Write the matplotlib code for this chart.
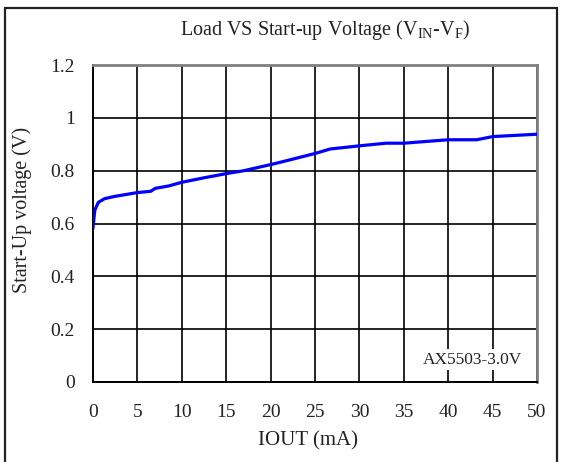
import numpy as np
import matplotlib
matplotlib.use('Agg')
import matplotlib.pyplot as plt
from matplotlib.patches import Rectangle

plt.rcParams['font.family'] = ['Liberation Serif', 'DejaVu Serif']
plt.rcParams['mathtext.fontset'] = 'custom'
plt.rcParams['mathtext.rm'] = 'Liberation Serif'

# load current (mA) vs start-up voltage (V)
iout = [0, 0.2, 0.6, 1.3, 2.5, 5, 6.5, 7, 8.5, 10, 12.5, 15.2, 17, 20, 21,
        23, 25, 26.7, 30, 33, 35, 40, 43.2, 45, 50]
vstart = [0.585, 0.65, 0.68, 0.694, 0.703, 0.717, 0.722, 0.733, 0.742, 0.756,
          0.773, 0.79, 0.80, 0.823, 0.831, 0.848, 0.865, 0.882, 0.894, 0.904,
          0.904, 0.917, 0.917, 0.929, 0.938]

xticks = [0, 5, 10, 15, 20, 25, 30, 35, 40, 45, 50]
yticks = [0, 0.2, 0.4, 0.6, 0.8, 1.0, 1.2]
ytick_labels = ['0', '0.2', '0.4', '0.6', '0.8', '1', '1.2']

W, H = 562, 462
fig = plt.figure(figsize=(W/100, H/100), dpi=100)
ax = fig.add_axes([93/W, 80/H, 444/W, 317/H])

# outer frame (bottom edge cut off in the original)
fig.patches.append(Rectangle((5/W, -0.05), 552/W, 1.05 - 8/H,
                             transform=fig.transFigure, fill=False,
                             edgecolor='#222222', linewidth=1.6))

ax.plot(iout, vstart, color='#0000ff', linewidth=2.3, zorder=3)

ax.set_xlim(0, 50)
ax.set_ylim(0, 1.2)
ax.set_xticks(xticks)
ax.set_yticks(yticks)
ax.set_yticklabels(ytick_labels)
ax.grid(True, color='black', linewidth=1.2)
ax.tick_params(length=0, labelsize=14, colors='#222222')
ax.tick_params(axis='x', pad=16)
ax.tick_params(axis='y', pad=13)

for s in ['left', 'bottom']:
    ax.spines[s].set_color('black')
    ax.spines[s].set_linewidth(1.4)
for s in ['top', 'right']:
    ax.spines[s].set_color('#808080')
    ax.spines[s].set_linewidth(2)

fig.text(308/W, 1 - 441/H, 'IOUT (mA)', ha='center', va='center',
         fontsize=15, color='#222222')
fig.text(22/W, 1 - 210/H, 'Start-Up voltage (V)', ha='center', va='center',
         rotation=90, fontsize=14.5, color='#222222')
fig.text(325/W, 1 - 30/H, r'Load VS Start-up Voltage (V$_{\mathrm{IN}}$-V$_{\mathrm{F}}$)',
         ha='center', va='center', fontsize=14.5, color='#222222')

ax.text(48.3, 0.085, 'AX5503-3.0V', ha='right', va='center', fontsize=12.5,
        color='#222222', zorder=4,
        bbox=dict(facecolor='white', edgecolor='none', pad=2))

fig.savefig('out.png', dpi=100)
